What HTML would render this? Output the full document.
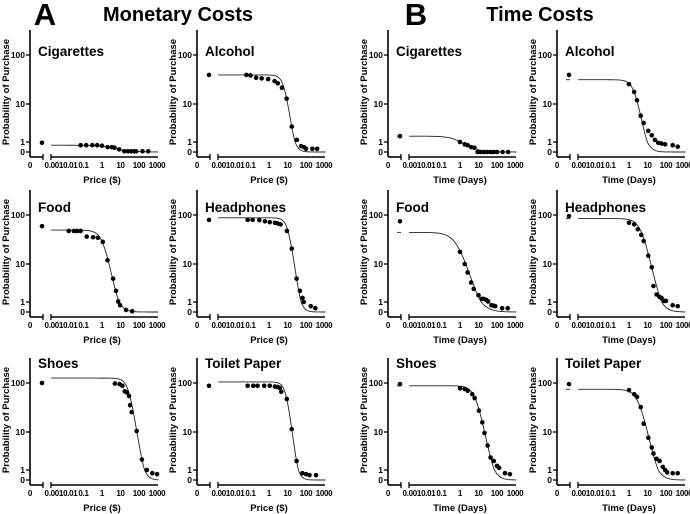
<!DOCTYPE html>
<html><head><meta charset="utf-8"><style>
html,body{margin:0;padding:0;background:#fff;}
svg{display:block;font-family:"Liberation Sans",Arial,sans-serif;font-weight:bold;}
</style></head><body>
<svg id="fig" width="690" height="514" viewBox="0 0 690 514">
<text x="45" y="25" font-size="31" text-anchor="middle">A</text>
<text x="178" y="21" font-size="20" text-anchor="middle">Monetary Costs</text>
<text x="416" y="25" font-size="31" text-anchor="middle">B</text>
<text x="540" y="21" font-size="20" text-anchor="middle">Time Costs</text>
</svg>
<script>
// ---- data (per panel) ----
const panelTitles = ["Cigarettes","Alcohol","Food","Headphones","Shoes","Toilet Paper","Cigarettes","Alcohol","Food","Headphones","Shoes","Toilet Paper"];
const zeroValues = [0.9,40,60,80,100,88, 1.6,40,75,95,95,95];
const xCig$ = [0.07,0.14,0.3,0.55,1,2,3.4,4.7,8.5,16,25,38,57,70,155,315];
const yCig$ = [0.6,0.6,0.6,0.6,0.55,0.4,0.4,0.35,0.2,0.05,0.05,0.05,0.05,0.05,0.05,0.05];
const xAlc$ = [0.06,0.1,0.2,0.4,0.9,2,3,5,9,17,32,55,80,100,220,400];
const yAlc$ = [40,39,35,34,33,30,27,22,13,3,1.2,0.5,0.4,0.25,0.25,0.25];
const xFood$ = [0.016,0.03,0.045,0.07,0.15,0.33,0.6,1.1,2,4,5.7,7.5,9.5,20,43];
const yFood$ = [48,48,48,48,37,36,35,29,12,4.7,2.3,1.05,0.6,0.15,0.05];
const xHead$ = [0.07,0.13,0.3,0.6,1.1,2.1,2.9,4.2,9.3,17,31,47,65,75,180,320];
const yHead$ = [80,80,79,75,72,70,68,65,48,21,4.7,2.3,1.4,1.0,0.5,0.3];
const xShoe$ = [5,9,12.6,17,22,29,33,40,75,144,265,525,960];
const yShoe$ = [98,95,88,68,65,55,36,26,10.5,2.2,1.0,0.6,0.5];
const xTP$ = [0.07,0.14,0.24,0.55,1.1,2.1,3,3.8,4.6,9.2,17,31,64,100,155,350];
const yTP$ = [88,88,88,88,88,85,83,80,67,48,11.5,2,0.6,0.5,0.4,0.4];
const xCigT = [1,1.8,2.6,4,6,9,13,20,30,45,66,100,200,400];
const yCigT = [1.0,0.7,0.6,0.4,0.35,0,0,0,0,0,0,0,0,0];
const xAlcT = [1,1.9,2.7,4.3,6.2,11,17,25,38,57,90,230,430];
const yAlcT = [26,18,12,5.5,3.7,2.3,1.7,1.2,0.9,0.8,0.7,0.6,0.45];
const xFoodT = [1,1.8,2.6,4,5.5,10,15,19,26,33,50,65,80,190,380];
const yFoodT = [18,10,6.5,3.8,2.6,1.7,1.3,1.3,1.2,1.05,0.6,0.55,0.5,0.3,0.3];
const xHeadT = [1,1.9,3,4.6,6.2,11,17,21,31,45,57,78,100,230,430];
const yHeadT = [70,65,52,40,30,15,8.5,3.1,1.8,1.5,1.4,1.1,1.1,0.6,0.5];
const xShoeT = [1,1.8,2.6,4.6,6.2,10.5,16,21,31,45,67,100,130,270,500];
const yShoeT = [78,76,70,60,50,28,16,9.5,5,2.5,2,1.4,1.2,0.6,0.5];
const xTPT = [1,1.9,2.7,4.3,6.2,11,17,21,31,45,67,90,115,230,430];
const yTPT = [72,60,53,33,15,7.5,4.5,3.2,2.3,2,1.3,1.0,0.7,0.6,0.6];
const seriesX = [xCig$,xAlc$,xFood$,xHead$,xShoe$,xTP$,xCigT,xAlcT,xFoodT,xHeadT,xShoeT,xTPT];
const seriesY = [yCig$,yAlc$,yFood$,yHead$,yShoe$,yTP$,yCigT,yAlcT,yFoodT,yHeadT,yShoeT,yTPT];
// fitted curve parameters: top, x50, hill slope
const fitTop = [0.6,40,50,88,125,105, 1.6,32,45,85,88,75];
const fitX50 = [4,6.9,1.2,11.3,29,8.6, 1.55,2.1,0.79,5,7.5,3.5];
const fitHill = [1,2.8,2,2.84,2.5,3.08, 1.16,2.23,1.32,1.8,1.97,1.8];
const yTickVals = [0,1,10,100];
const yTickLabels = ["0","1","10","100"];
const xTickVals = [0.1,1,10,100,1000];
const xTickLabels = ["0.1","1","10","100","1000"];

// ---- layout ----
const axisXs = [30,197,388,557];
const zeroYs = [152,312,480];
const titleOffsets = [96,100,112];
const G = [0,Math.log10(2),Math.log10(11),Math.log10(101)];
const P = [0,10,48,97];
function yScale(v, z){
  const g = Math.log10(Math.max(v,0)+1);
  let i = 0; while(i<2 && g>G[i+1]) i++;
  const p = P[i] + (g-G[i])/(G[i+1]-G[i])*(P[i+1]-P[i]);
  return z - p;
}
function xScale(v, ax){ return ax + 72 + 18.5*Math.log10(v); }
const svg = document.getElementById('fig');
const NS = "http://www.w3.org/2000/svg";
function mk(tag, attrs, parent){
  const e = document.createElementNS(NS, tag);
  for(const k in attrs) e.setAttribute(k, attrs[k]);
  (parent||svg).appendChild(e); return e;
}
for(let p=0;p<12;p++){
  const half = p<6?0:1, idx = p%6, row = Math.floor(idx/2), col = idx%2;
  const ax = axisXs[half*2+col], z = zeroYs[row];
  const g = mk('g',{});
  
  
  const axisY = z+5;
  const ya = mk('line',{x1:ax,y1:z-122,x2:ax,y2:axisY,stroke:'#000','stroke-width':1.6},g);
  
  
  yTickVals.forEach((v,i)=>{
    const yy = yScale(v,z);
    mk('line',{x1:ax-4,y1:yy,x2:ax,y2:yy,stroke:'#000','stroke-width':1.3},g);
    const t = mk('text',{x:ax-5,y:yy+3,'font-size':8.5,'text-anchor':'end'},g);
    t.textContent = yTickLabels[i];
    
    
  });
  const xa1 = mk('line',{x1:ax,y1:axisY,x2:ax+13,y2:axisY,stroke:'#000','stroke-width':1.6},g);
  
  
  mk('line',{x1:ax+13,y1:axisY-3,x2:ax+13,y2:axisY+3,stroke:'#000','stroke-width':1.3},g);
  const xa2 = mk('line',{x1:ax+21,y1:axisY,x2:ax+128,y2:axisY,stroke:'#000','stroke-width':1.6},g);
  
  
  mk('line',{x1:ax+21,y1:axisY-3,x2:ax+21,y2:axisY+3,stroke:'#000','stroke-width':1.3},g);
  const labs = [["0",ax],["0.0010.01",ax+31]];
  xTickVals.forEach((v,i)=>labs.push([xTickLabels[i], Math.min(xScale(v,ax),ax+127)]));
  labs.forEach(l=>{
    const t = mk('text',{x:l[1],y:axisY+11,'font-size':8,'text-anchor':'middle','letter-spacing':'-0.3'},g);
    t.textContent = l[0];
    
    
  });
  const xt = mk('text',{x:ax+72,y:z+31,'font-size':9.5,'text-anchor':'middle'},g);
  xt.textContent = half? 'Time (Days)' : 'Price ($)';
  
  
  const yt = mk('text',{x:0,y:0,'font-size':9.5,'text-anchor':'middle',transform:`translate(${ax-21},${z-60}) rotate(-90)`},g);
  yt.textContent = 'Probability of Purchase';
  
  
  const tt = mk('text',{x:ax+8,y:z-titleOffsets[row],'font-size':13.5},g);
  tt.textContent = panelTitles[p];
  
  
  let d = '';
  const lx0 = -2.75, lx1 = 3.05;
  for(let k=0;k<=160;k++){
    const lx = lx0 + k*((lx1-lx0)/160);
    const xv = Math.pow(10,lx);
    const yv = fitTop[p]/(1+Math.pow(xv/fitX50[p],fitHill[p]));
    d += (k?'L':'M') + xScale(xv,ax).toFixed(2) + ',' + yScale(yv,z).toFixed(2);
  }
  const c = mk('path',{d:d,fill:'none',stroke:'#222','stroke-width':0.9},g);
  
  
  if(half){
    const dash = mk('line',{x1:ax+9,y1:yScale(fitTop[p],z),x2:ax+13,y2:yScale(fitTop[p],z),stroke:'#222','stroke-width':0.9},g);
    
    
  }
  const zp = mk('circle',{cx:ax+12,cy:yScale(zeroValues[p],z),r:2.3,fill:'#000'},g);
  
  
  seriesX[p].forEach((xv,i)=>{
    const pt = mk('circle',{cx:xScale(xv,ax),cy:yScale(seriesY[p][i],z),r:2.3,fill:'#000'},g);
    
    
  });
}
</script>
</body></html>
